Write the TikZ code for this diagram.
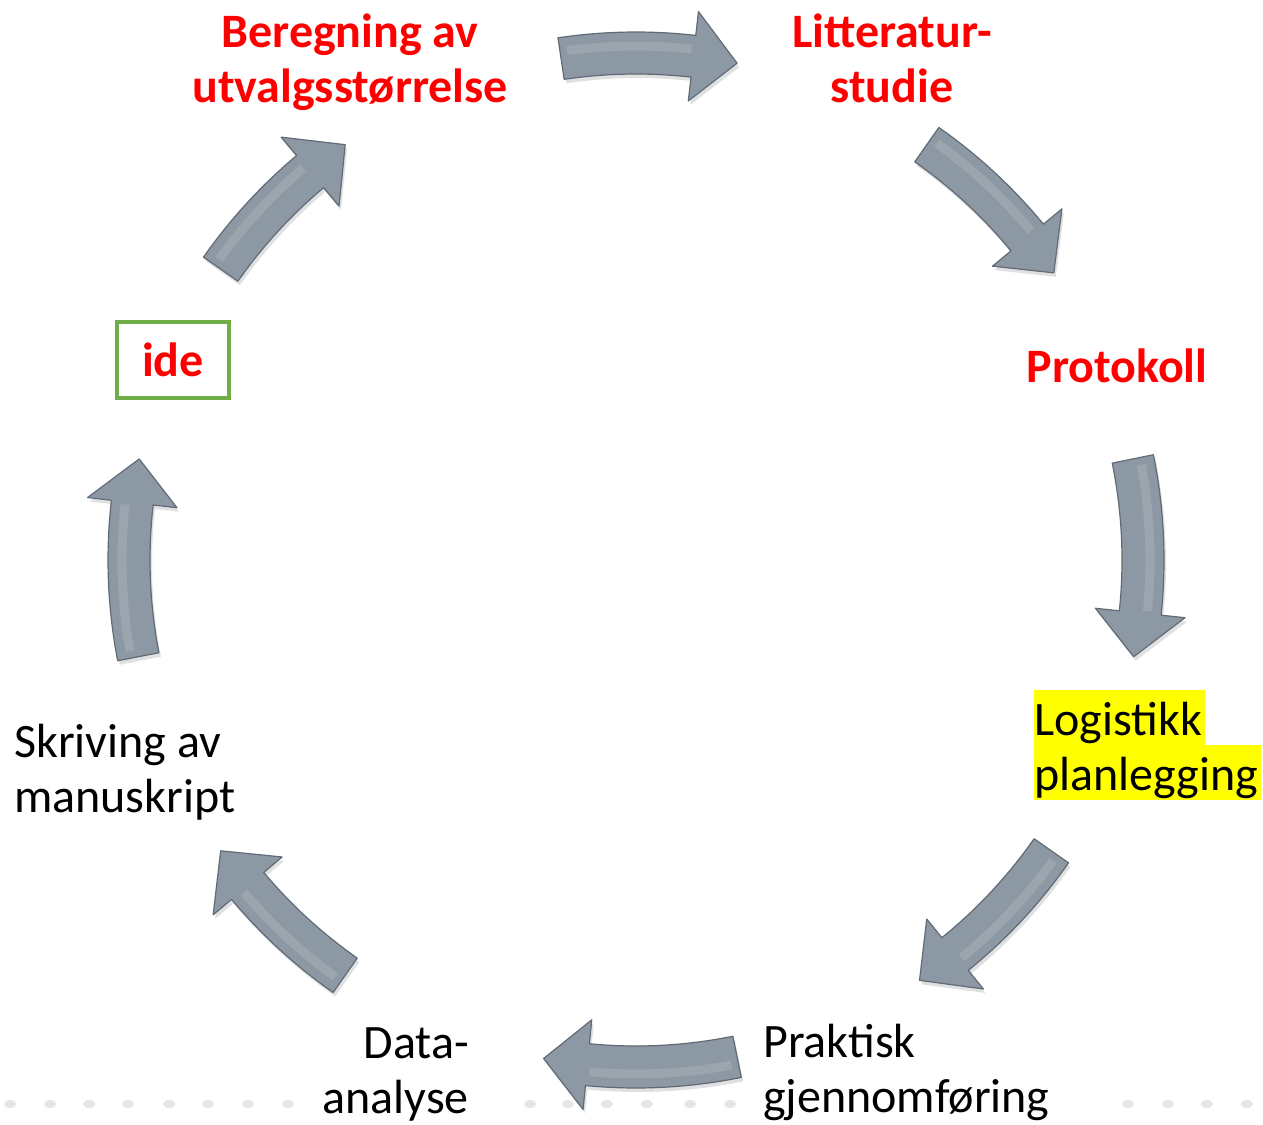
\documentclass[tikz,border=0pt]{standalone}
\usepackage{fontspec}
\setmainfont{Carlito}
\usetikzlibrary{shadows}
\definecolor{arrowgray}{RGB}{140,152,163}
\definecolor{arrowedge}{RGB}{96,107,118}
\definecolor{labelred}{RGB}{255,0,0}
\definecolor{idegreen}{RGB}{112,173,71}
\definecolor{hlyellow}{RGB}{255,255,0}
\newcommand{\lnstrut}{\rule[-10pt]{0pt}{55pt}}
\newcommand{\hlline}[1]{{\setlength{\fboxsep}{0pt}\colorbox{hlyellow}{\lnstrut #1\hspace{3pt}}}}
\newcommand{\cyclearrow}[2]{%
  \pgfmathsetmacro{\abase}{#2+5}%
  \path[cyclearrowstyle] (#1:528) arc[start angle=#1, end angle=\abase, radius=528]
    -- (\abase:552) -- (#2:507) -- (\abase:462) -- (\abase:486)
    arc[start angle=\abase, end angle=#1, radius=486] -- cycle;
  \draw[white, opacity=0.13, line width=9pt] (#1-0.8:514) arc[start angle=#1-0.8, end angle=\abase+0.3, radius=514];
}
\begin{document}
\begin{tikzpicture}[x=1pt, y=-1pt,
  labeltext/.style={inner sep=0pt, font=\fontsize{48}{55}\selectfont},
  redlabel/.style={labeltext, text=labelred, font=\fontsize{48}{55}\selectfont\bfseries},
  cyclearrowstyle/.style={fill=arrowgray, draw=arrowedge, line width=1.2pt, line join=round,
    drop shadow={shadow xshift=2pt, shadow yshift=-4pt, opacity=0.2, fill=black!60}},
  faintdot/.style={fill=black!10},
  idebox/.style={draw=idegreen, line width=4pt, minimum width=112pt, minimum height=76pt, inner sep=0pt}
]
\useasboundingbox (0,0) rectangle (1263,1124);

% faint marks at the bottom
\foreach \dx in {10,50,89,128,169,208,248,288,530,568,607,647,690,730,1128,1168,1207,1247}
  \fill[faintdot] (\dx,1104) ellipse [x radius=6, y radius=4];

% arrows around the cycle
\begin{scope}[shift={(636,560)}, x=1pt, y=1pt]
  \cyclearrow{98.5}{78.5}
  \cyclearrow{55}{34.5}
  \cyclearrow{11.5}{-11}
  \cyclearrow{-35}{-56}
  \cyclearrow{-78.5}{-100.5}
  \cyclearrow{-125}{-145}
  \cyclearrow{191}{168.5}
  \cyclearrow{145}{125}
\end{scope}

% labels
\node[redlabel, align=center, anchor=north] (beregning) at (350,2)
  {\lnstrut Beregning av\\\lnstrut utvalgsstørrelse};
\node[redlabel, align=center, anchor=north] (litteratur) at (892,2)
  {\lnstrut Litteratur-\\\lnstrut studie};
\node[redlabel, anchor=north] (protokoll) at (1117,337) {\lnstrut Protokoll};
\node[idebox, text=labelred, font=\fontsize{48}{55}\selectfont\bfseries] (ide) at (173,360) {ide};
\node[labeltext, align=left, anchor=north west] (logistikk) at (1034,690)
  {\hlline{Logistikk}\\\hlline{planlegging}};
\node[labeltext, align=left, anchor=north west] (skriving) at (14,712)
  {\lnstrut Skriving av\\\lnstrut manuskript};
\node[labeltext, align=right, anchor=north east] (data) at (469,1013)
  {\lnstrut Data-\\\lnstrut analyse};
\node[labeltext, align=left, anchor=north west] (praktisk) at (763,1012)
  {\lnstrut Praktisk\\\lnstrut gjennomføring};
\end{tikzpicture}
\end{document}
